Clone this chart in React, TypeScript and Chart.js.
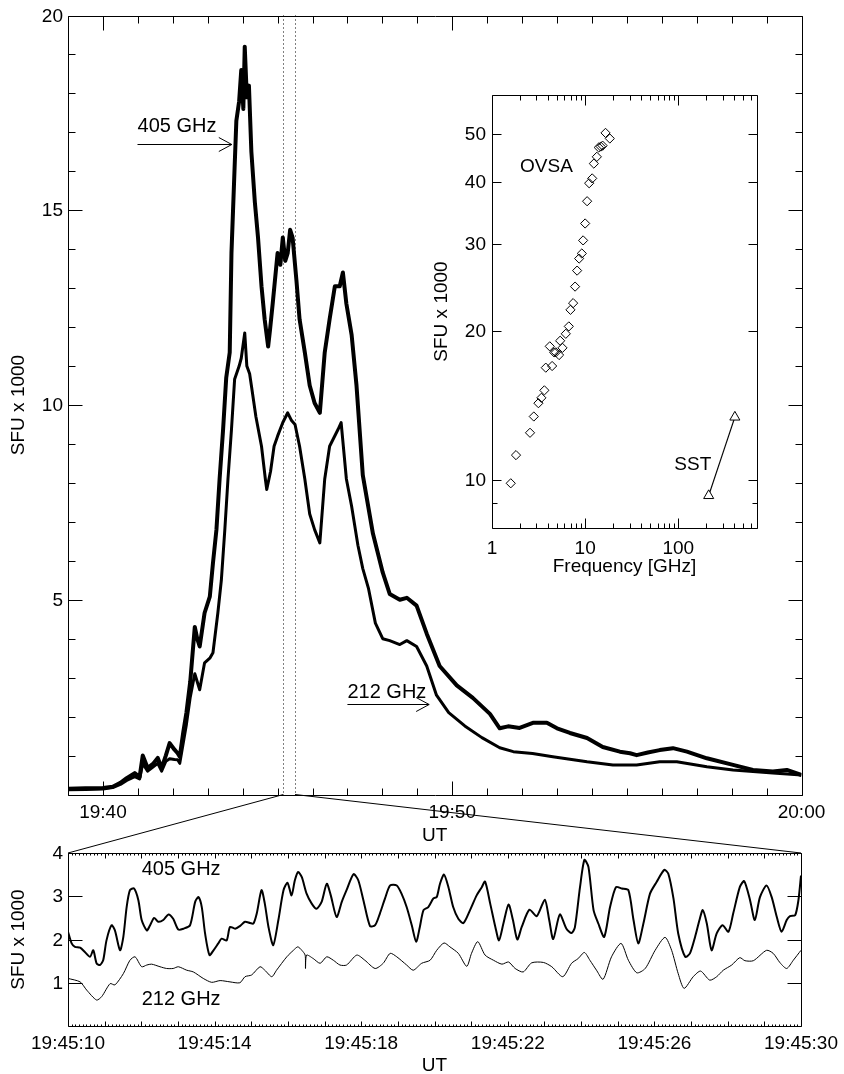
import React, { useEffect, useRef } from 'react';
import { Chart, registerables } from 'chart.js';

Chart.register(...registerables);

const FONT = '"Liberation Sans", Arial, Helvetica, sans-serif';
const FS = 19;

// ---------------- main panel (time = minutes after 19:00, flux in SFU x 1000) ----------------
const mainTime405 = [39.0, 39.5, 40.0, 40.28, 40.5, 40.68, 40.91, 41.05, 41.14, 41.28, 41.45, 41.57, 41.68, 41.8, 41.91, 42.05, 42.14, 42.2, 42.3, 42.39, 42.5, 42.63, 42.7, 42.77, 42.91, 43.06, 43.15, 43.25, 43.34, 43.44, 43.53, 43.63, 43.68, 43.77, 43.82, 43.9, 43.96, 44.02, 44.06, 44.12, 44.18, 44.25, 44.35, 44.44, 44.54, 44.63, 44.73, 44.78, 44.86, 45.0, 45.08, 45.15, 45.22, 45.29, 45.36, 45.43, 45.54, 45.63, 45.78, 45.92, 46.06, 46.21, 46.35, 46.49, 46.64, 46.78, 46.87, 46.97, 47.12, 47.26, 47.44, 47.73, 48.01, 48.21, 48.5, 48.7, 48.98, 49.27, 49.64, 50.13, 50.59, 51.08, 51.36, 51.6, 51.93, 52.31, 52.71, 53.0, 53.37, 53.86, 54.31, 54.8, 55.09, 55.28, 55.6, 55.94, 56.32, 56.72, 57.29, 58.04, 58.61, 59.18, 59.58, 60.0];
const mainFlux405 = [0.15, 0.16, 0.17, 0.2, 0.3, 0.42, 0.55, 0.45, 1.0, 0.68, 0.8, 0.94, 0.68, 1.0, 1.32, 1.15, 1.06, 0.97, 1.6, 2.1, 2.9, 4.3, 4.0, 3.8, 4.66, 5.08, 5.94, 6.8, 8.1, 9.37, 10.7, 11.35, 13.9, 16.1, 17.3, 17.8, 18.6, 17.6, 19.2, 17.9, 18.2, 16.5, 15.2, 14.3, 13.05, 12.2, 11.5, 11.9, 12.6, 13.9, 13.6, 14.3, 13.7, 13.9, 14.5, 14.3, 13.2, 12.2, 11.35, 10.5, 10.05, 9.8, 11.35, 12.2, 13.05, 13.05, 13.4, 12.6, 11.8, 10.5, 8.2, 6.7, 5.7, 5.15, 5.0, 5.05, 4.85, 4.13, 3.3, 2.8, 2.48, 2.07, 1.7, 1.75, 1.71, 1.84, 1.84, 1.7, 1.58, 1.45, 1.22, 1.1, 1.06, 1.01, 1.08, 1.14, 1.19, 1.1, 0.93, 0.76, 0.63, 0.59, 0.63, 0.5];

const mainTime212 = [39.0, 39.5, 40.0, 40.28, 40.5, 40.68, 40.91, 41.05, 41.14, 41.28, 41.45, 41.57, 41.68, 41.8, 41.91, 42.05, 42.14, 42.2, 42.39, 42.5, 42.63, 42.77, 42.91, 43.06, 43.15, 43.29, 43.39, 43.49, 43.58, 43.68, 43.77, 43.9, 43.96, 44.06, 44.12, 44.2, 44.25, 44.38, 44.54, 44.65, 44.69, 44.8, 44.9, 45.0, 45.15, 45.29, 45.4, 45.5, 45.63, 45.78, 45.92, 46.06, 46.21, 46.35, 46.49, 46.73, 46.82, 46.97, 47.12, 47.3, 47.44, 47.6, 47.8, 48.01, 48.21, 48.5, 48.7, 48.98, 49.27, 49.55, 49.9, 50.36, 50.85, 51.36, 51.75, 52.3, 52.88, 53.86, 54.6, 55.28, 55.94, 56.43, 57.29, 58.04, 58.61, 59.18, 60.0];
const mainFlux212 = [0.12, 0.13, 0.14, 0.18, 0.26, 0.36, 0.46, 0.4, 0.8, 0.6, 0.72, 0.8, 0.6, 0.85, 0.92, 0.9, 0.89, 0.8, 1.8, 2.5, 3.1, 2.69, 3.38, 3.5, 3.64, 4.66, 5.5, 6.8, 8.1, 9.37, 10.66, 11.0, 11.2, 11.85, 11.0, 10.8, 10.5, 9.7, 8.94, 8.1, 7.83, 8.3, 8.94, 9.2, 9.55, 9.8, 9.6, 9.5, 8.94, 8.1, 7.2, 6.8, 6.46, 8.1, 8.94, 9.37, 9.55, 8.1, 7.4, 6.4, 5.8, 5.3, 4.4, 4.0, 3.95, 3.85, 3.95, 3.8, 3.3, 2.55, 2.1, 1.76, 1.46, 1.2, 1.1, 1.05, 0.97, 0.84, 0.76, 0.76, 0.84, 0.84, 0.71, 0.63, 0.59, 0.55, 0.5];

const mainXTickValues = [40, 50, 60];
const mainXTickLabels = ['19:40', '19:50', '20:00'];
const mainYTickValues = [5, 10, 15, 20];
const mainYTickLabels = ['5', '10', '15', '20'];
const zoomWindow = [45 + 10 / 60, 45.5];

const mainNoteText = ['405 GHz', '212 GHz'];
const mainNoteTime = [40.99, 47.0];
const mainNoteLevel = [17.0, 2.48];
const mainArrowStart = [40.99, 47.0];
const mainArrowTip = [43.69, 49.34];
const mainArrowLevel = [16.7, 2.33];

// ---------------- inset spectrum ----------------
const ovsaFreq = [1.59, 1.81, 2.56, 2.81, 3.15, 3.39, 3.65, 3.78, 4.42, 4.17, 4.64, 4.84, 5.25, 5.39, 5.71, 6.2, 6.68, 6.96, 7.43, 7.8, 8.2, 8.62, 9.21, 9.51, 10.0, 10.5, 11.04, 11.9, 12.4, 13.35, 14.0, 14.7, 15.4, 16.55, 18.4];
const ovsaFlux = [9.85, 11.23, 12.46, 13.44, 14.3, 14.66, 15.18, 16.87, 17.0, 18.63, 18.12, 18.12, 17.89, 19.12, 18.5, 19.75, 20.44, 22.08, 22.78, 24.6, 26.5, 28.03, 28.7, 30.5, 33.0, 36.6, 39.8, 40.7, 43.6, 45.0, 47.0, 47.2, 47.4, 50.3, 49.0];
const sstFreq = [212, 405];
const sstFlux = [9.3, 13.4];
const insetXTickValues = [1, 10, 100];
const insetXTickLabels = ['1', '10', '100'];
const insetYTickValues = [10, 20, 30, 40, 50];
const insetYTickLabels = ['10', '20', '30', '40', '50'];

// ---------------- zoom panel (time = seconds after 19:45:00) ----------------
const zoomTime405 = [10.0, 10.1, 10.19, 10.33, 10.46, 10.6, 10.69, 10.78, 10.87, 10.96, 11.05, 11.19, 11.28, 11.42, 11.51, 11.6, 11.69, 11.8, 11.92, 12.01, 12.15, 12.24, 12.35, 12.46, 12.6, 12.74, 12.87, 13.01, 13.15, 13.33, 13.47, 13.56, 13.65, 13.74, 13.86, 13.97, 14.1, 14.19, 14.33, 14.42, 14.56, 14.69, 14.83, 14.97, 15.06, 15.15, 15.28, 15.37, 15.47, 15.6, 15.74, 15.88, 15.99, 16.1, 16.19, 16.28, 16.38, 16.51, 16.65, 16.78, 16.92, 17.06, 17.17, 17.33, 17.47, 17.6, 17.79, 17.92, 18.06, 18.24, 18.38, 18.51, 18.65, 18.79, 18.97, 19.1, 19.24, 19.38, 19.5, 19.6, 19.7, 19.83, 19.97, 20.06, 20.15, 20.26, 20.38, 20.51, 20.65, 20.79, 20.97, 21.15, 21.29, 21.38, 21.52, 21.66, 21.76, 21.88, 22.02, 22.14, 22.26, 22.38, 22.59, 22.79, 23.01, 23.13, 23.24, 23.42, 23.6, 23.74, 23.83, 23.97, 24.09, 24.2, 24.34, 24.47, 24.63, 24.79, 24.95, 25.11, 25.29, 25.43, 25.56, 25.7, 25.88, 26.06, 26.27, 26.38, 26.52, 26.65, 26.84, 26.97, 27.11, 27.23, 27.32, 27.43, 27.56, 27.7, 27.86, 28.02, 28.15, 28.33, 28.45, 28.61, 28.74, 28.88, 29.06, 29.2, 29.34, 29.47, 29.61, 29.7, 29.84, 29.93, 30.0];
const zoomFlux405 = [2.18, 1.91, 1.83, 1.81, 1.71, 1.6, 1.75, 1.45, 1.41, 1.52, 1.98, 2.33, 2.21, 1.75, 2.06, 2.75, 3.14, 3.18, 2.91, 2.45, 2.21, 2.33, 2.5, 2.41, 2.45, 2.58, 2.48, 2.23, 2.25, 2.33, 2.87, 2.98, 2.75, 2.14, 1.64, 1.75, 1.91, 2.02, 1.98, 2.29, 2.25, 2.31, 2.41, 2.38, 2.37, 2.6, 3.14, 2.83, 2.29, 1.87, 2.45, 3.14, 3.31, 3.02, 3.37, 3.56, 3.44, 3.06, 2.83, 2.71, 2.87, 3.29, 3.02, 2.52, 2.87, 3.14, 3.51, 3.37, 2.91, 2.31, 2.33, 2.6, 2.95, 3.25, 3.25, 3.06, 2.75, 2.33, 1.95, 2.29, 2.68, 2.75, 2.95, 2.98, 3.29, 3.5, 3.21, 2.75, 2.48, 2.38, 2.68, 3.02, 3.21, 3.34, 2.83, 2.29, 1.98, 2.37, 2.81, 2.45, 2.0, 2.29, 2.69, 2.54, 2.92, 2.45, 2.01, 2.58, 2.25, 2.15, 2.28, 3.21, 3.84, 3.68, 2.68, 2.37, 2.06, 2.75, 3.21, 3.18, 3.14, 2.45, 1.91, 2.37, 3.06, 3.33, 3.61, 3.52, 2.95, 2.14, 1.6, 1.68, 2.06, 2.45, 2.68, 2.37, 1.75, 2.14, 2.33, 2.18, 2.6, 3.21, 3.35, 2.91, 2.45, 2.98, 3.25, 2.98, 2.52, 2.18, 2.45, 2.54, 2.56, 2.91, 3.48];

const zoomTime212 = [10.0, 10.33, 10.51, 10.78, 10.92, 11.15, 11.28, 11.51, 11.69, 11.83, 12.01, 12.15, 12.28, 12.51, 12.69, 12.87, 13.01, 13.24, 13.42, 13.69, 13.92, 14.15, 14.42, 14.69, 14.83, 15.01, 15.24, 15.37, 15.56, 15.69, 15.97, 16.15, 16.27, 16.38, 16.47, 16.48, 16.51, 16.69, 16.88, 17.06, 17.24, 17.42, 17.6, 17.88, 18.1, 18.38, 18.6, 18.79, 18.97, 19.24, 19.42, 19.65, 19.88, 20.06, 20.26, 20.42, 20.65, 20.88, 21.01, 21.18, 21.38, 21.61, 21.84, 22.02, 22.2, 22.42, 22.65, 22.97, 23.2, 23.5, 23.74, 23.92, 24.09, 24.24, 24.42, 24.6, 24.83, 25.09, 25.29, 25.52, 25.75, 26.02, 26.29, 26.47, 26.65, 26.81, 27.06, 27.26, 27.51, 27.7, 27.88, 28.11, 28.33, 28.47, 28.7, 29.06, 29.24, 29.43, 29.61, 29.79, 30.0];
const zoomFlux212 = [1.1, 1.02, 0.83, 0.6, 0.68, 0.98, 0.95, 1.21, 1.52, 1.6, 1.37, 1.41, 1.43, 1.37, 1.33, 1.33, 1.37, 1.29, 1.25, 1.1, 1.01, 1.05, 1.02, 1.0, 1.14, 1.18, 1.37, 1.29, 1.14, 1.29, 1.6, 1.75, 1.83, 1.75, 1.64, 1.33, 1.64, 1.56, 1.45, 1.6, 1.52, 1.41, 1.41, 1.64, 1.52, 1.33, 1.45, 1.68, 1.6, 1.41, 1.29, 1.45, 1.52, 1.75, 1.92, 1.83, 1.68, 1.38, 1.68, 1.95, 1.64, 1.52, 1.43, 1.48, 1.33, 1.25, 1.46, 1.47, 1.37, 1.14, 1.45, 1.56, 1.7, 1.52, 1.29, 1.08, 1.6, 1.91, 1.52, 1.23, 1.33, 1.75, 2.05, 1.75, 1.21, 0.87, 1.14, 1.27, 1.06, 1.14, 1.29, 1.41, 1.58, 1.51, 1.51, 1.75, 1.68, 1.46, 1.33, 1.52, 1.75];

const zoomXTickValues = [10, 14, 18, 22, 26, 30];
const zoomXTickLabels = ['19:45:10', '19:45:14', '19:45:18', '19:45:22', '19:45:26', '19:45:30'];
const zoomYTickValues = [1, 2, 3, 4];
const zoomYTickLabels = ['1', '2', '3', '4'];
const zoomNoteText = ['405 GHz', '212 GHz'];
const zoomNoteTime = [12.01, 12.01];
const zoomNoteLevel = [3.48, 0.48];

const insetNoteText = ['OVSA', 'SST'];
const insetNoteFreq = [2.0, 90.6];
const insetNoteFlux = [42.0, 10.5];

// ---------------- helpers ----------------
type Mark = { v: number; len: number };
type FrameCfg = {
  xMarks: Mark[];
  yMarks: Mark[];
  xLabelValues: number[];
  xLabels: string[];
  yLabelValues: number[];
  yLabels: string[];
  xLabelDrop: number;
  yLabelGap: number;
  xTitle: string;
  xTitleDrop: number;
  yTitle: string;
  yTitleX: number;
};

const pts = (xs: number[], ys: number[]) => xs.map((x, i) => ({ x, y: ys[i] }));
const crisp = (v: number) => Math.round(v) + 0.5;

function framePlugin(id: string, cfg: FrameCfg) {
  return {
    id,
    afterDatasetsDraw(chart: any) {
      const { ctx, chartArea: a, scales } = chart;
      const sx = scales.x;
      const sy = scales.y;
      const L = crisp(a.left), R = crisp(a.right), T = crisp(a.top), B = crisp(a.bottom);
      ctx.save();
      ctx.strokeStyle = '#000';
      ctx.lineWidth = 1;
      ctx.setLineDash([]);
      ctx.beginPath();
      ctx.rect(L, T, R - L, B - T);
      for (const m of cfg.xMarks) {
        const px = crisp(sx.getPixelForValue(m.v));
        ctx.moveTo(px, B);
        ctx.lineTo(px, B - m.len);
        ctx.moveTo(px, T);
        ctx.lineTo(px, T + m.len);
      }
      for (const m of cfg.yMarks) {
        const py = crisp(sy.getPixelForValue(m.v));
        ctx.moveTo(L, py);
        ctx.lineTo(L + m.len, py);
        ctx.moveTo(R, py);
        ctx.lineTo(R - m.len, py);
      }
      ctx.stroke();

      ctx.fillStyle = '#000';
      ctx.font = `${FS}px ${FONT}`;
      ctx.textAlign = 'center';
      ctx.textBaseline = 'alphabetic';
      cfg.xLabelValues.forEach((v, i) => {
        ctx.fillText(cfg.xLabels[i], sx.getPixelForValue(v), a.bottom + cfg.xLabelDrop);
      });
      ctx.fillText(cfg.xTitle, (a.left + a.right) / 2, a.bottom + cfg.xTitleDrop);
      ctx.textAlign = 'right';
      ctx.textBaseline = 'middle';
      cfg.yLabelValues.forEach((v, i) => {
        ctx.fillText(cfg.yLabels[i], a.left - cfg.yLabelGap, sy.getPixelForValue(v) + 1);
      });
      ctx.save();
      ctx.translate(cfg.yTitleX, (a.top + a.bottom) / 2);
      ctx.rotate(-Math.PI / 2);
      ctx.textAlign = 'center';
      ctx.textBaseline = 'middle';
      ctx.fillText(cfg.yTitle, 0, 0);
      ctx.restore();
      ctx.restore();
    },
  };
}

function range(from: number, to: number, step: number) {
  const out: number[] = [];
  for (let i = 0; from + i * step <= to + 1e-9; i++) out.push(+(from + i * step).toFixed(4));
  return out;
}

const MAIN_H = 850;
const ZOOM_TOP = 836;
const ZOOM_H = 238;
const INSET_LEFT = 420;
const INSET_TOP = 60;
const INSET_W = 360;
const INSET_H = 530;

export default function App() {
  const mainRef = useRef<HTMLCanvasElement>(null);
  const insetRef = useRef<HTMLCanvasElement>(null);
  const zoomRef = useRef<HTMLCanvasElement>(null);
  const overRef = useRef<HTMLCanvasElement>(null);

  useEffect(() => {
    const common = {
      responsive: false,
      animation: false as const,
      devicePixelRatio: 1,
      plugins: { legend: { display: false }, tooltip: { enabled: false } },
      elements: { point: { radius: 0 }, line: { tension: 0, borderJoinStyle: 'round' as const } },
    };

    // ---------- main ----------
    const mainFrame = framePlugin('mainFrame', {
      xMarks: range(39, 60, 1).map((v) => ({ v, len: v % 10 === 0 ? 14 : 7 })),
      yMarks: range(0, 20, 1).map((v) => ({ v, len: v % 5 === 0 ? 14 : 7 })),
      xLabelValues: mainXTickValues,
      xLabels: mainXTickLabels,
      yLabelValues: mainYTickValues,
      yLabels: mainYTickLabels,
      xLabelDrop: 23,
      yLabelGap: 5,
      xTitle: 'UT',
      xTitleDrop: 46.5,
      yTitle: 'SFU x 1000',
      yTitleX: 19,
    });
    const mainNotes = {
      id: 'mainNotes',
      afterDatasetsDraw(chart: any) {
        const { ctx, chartArea: a, scales } = chart;
        const sx = scales.x;
        const sy = scales.y;
        ctx.save();
        ctx.strokeStyle = '#000';
        ctx.lineWidth = 1;
        ctx.setLineDash([1, 3]);
        for (const t of zoomWindow) {
          const px = crisp(sx.getPixelForValue(t));
          ctx.beginPath();
          ctx.moveTo(px, a.top);
          ctx.lineTo(px, a.bottom);
          ctx.stroke();
        }
        ctx.setLineDash([]);
        mainArrowStart.forEach((t0, i) => {
          const x0 = sx.getPixelForValue(t0);
          const x1 = sx.getPixelForValue(mainArrowTip[i]);
          const py = crisp(sy.getPixelForValue(mainArrowLevel[i]));
          ctx.beginPath();
          ctx.moveTo(x0, py);
          ctx.lineTo(x1, py);
          ctx.moveTo(x1 - 13, py - 7);
          ctx.lineTo(x1, py);
          ctx.lineTo(x1 - 13, py + 7);
          ctx.stroke();
        });
        ctx.fillStyle = '#000';
        ctx.font = `${FS + 1}px ${FONT}`;
        ctx.textAlign = 'left';
        ctx.textBaseline = 'alphabetic';
        mainNoteText.forEach((txt, i) => {
          ctx.fillText(txt, sx.getPixelForValue(mainNoteTime[i]), sy.getPixelForValue(mainNoteLevel[i]));
        });
        ctx.restore();
      },
    };
    const mainChart = new Chart(mainRef.current!, {
      type: 'scatter',
      data: {
        datasets: [
          { data: pts(mainTime212, mainFlux212), showLine: true, borderColor: '#000', borderWidth: 3, pointRadius: 0 },
          { data: pts(mainTime405, mainFlux405), showLine: true, borderColor: '#000', borderWidth: 4, pointRadius: 0 },
        ],
      },
      options: {
        ...common,
        layout: { padding: { left: 68, top: 15.5, right: 42.5, bottom: MAIN_H - 794.5 } },
        scales: {
          x: { type: 'linear', min: 39, max: 60, display: false },
          y: { type: 'linear', min: 0, max: 20, display: false },
        },
      } as any,
      plugins: [mainNotes, mainFrame],
    });

    // ---------- inset ----------
    const insetXMinor: number[] = [];
    [1, 10, 100].forEach((d) => {
      for (let k = 2; k <= 9; k++) if (d * k <= 700) insetXMinor.push(d * k);
    });
    const insetFrame = framePlugin('insetFrame', {
      xMarks: [
        ...insetXTickValues.map((v) => ({ v, len: 10 })),
        ...insetXMinor.map((v) => ({ v, len: 5 })),
      ],
      yMarks: [...insetYTickValues.map((v) => ({ v, len: 9 })), { v: 9, len: 5 }],
      xLabelValues: insetXTickValues,
      xLabels: insetXTickLabels,
      yLabelValues: insetYTickValues,
      yLabels: insetYTickLabels,
      xLabelDrop: 25.5,
      yLabelGap: 6,
      xTitle: 'Frequency [GHz]',
      xTitleDrop: 44,
      yTitle: 'SFU x 1000',
      yTitleX: 442 - INSET_LEFT,
    });
    const insetNotes = {
      id: 'insetNotes',
      afterDatasetsDraw(chart: any) {
        const { ctx, scales } = chart;
        ctx.save();
        ctx.fillStyle = '#000';
        ctx.font = `${FS}px ${FONT}`;
        ctx.textAlign = 'left';
        ctx.textBaseline = 'alphabetic';
        insetNoteText.forEach((txt, i) => {
          ctx.fillText(txt, scales.x.getPixelForValue(insetNoteFreq[i]), scales.y.getPixelForValue(insetNoteFlux[i]));
        });
        ctx.restore();
      },
    };
    const insetChart = new Chart(insetRef.current!, {
      type: 'scatter',
      data: {
        datasets: [
          {
            data: pts(ovsaFreq, ovsaFlux),
            pointStyle: 'rectRot',
            pointRadius: 4.6,
            borderColor: '#000',
            borderWidth: 1,
            backgroundColor: 'rgba(0,0,0,0)',
            showLine: false,
          },
          {
            data: pts(sstFreq, sstFlux),
            pointStyle: 'triangle',
            pointRadius: 5.8,
            pointBorderColor: '#000',
            pointBorderWidth: 1,
            pointBackgroundColor: '#fff',
            borderColor: '#000',
            borderWidth: 1.2,
            showLine: true,
          },
        ],
      },
      options: {
        ...common,
        layout: { padding: { left: 492 - INSET_LEFT, top: 95 - INSET_TOP, right: INSET_W - (757 - INSET_LEFT), bottom: INSET_H - (528 - INSET_TOP) } },
        scales: {
          x: { type: 'logarithmic', min: 1, max: 700, display: false },
          y: { type: 'logarithmic', min: 8, max: 60, display: false },
        },
      } as any,
      plugins: [insetFrame, insetNotes],
    });

    // ---------- zoom panel ----------
    const zoomFrame = framePlugin('zoomFrame', {
      xMarks: range(10, 30, 0.1).map((v) => ({ v, len: Math.abs(v - Math.round(v)) < 1e-6 ? 5 : 2 })),
      yMarks: zoomYTickValues.map((v) => ({ v, len: 14 })),
      xLabelValues: zoomXTickValues,
      xLabels: zoomXTickLabels,
      yLabelValues: zoomYTickValues,
      yLabels: zoomYTickLabels,
      xLabelDrop: 22.5,
      yLabelGap: 5,
      xTitle: 'UT',
      xTitleDrop: 45,
      yTitle: 'SFU x 1000',
      yTitleX: 19,
    });
    const zoomNotes = {
      id: 'zoomNotes',
      afterDatasetsDraw(chart: any) {
        const { ctx, scales } = chart;
        ctx.save();
        ctx.fillStyle = '#000';
        ctx.font = `${FS + 1}px ${FONT}`;
        ctx.textAlign = 'left';
        ctx.textBaseline = 'alphabetic';
        zoomNoteText.forEach((txt, i) => {
          ctx.fillText(txt, scales.x.getPixelForValue(zoomNoteTime[i]), scales.y.getPixelForValue(zoomNoteLevel[i]));
        });
        ctx.restore();
      },
    };
    const zoomChart = new Chart(zoomRef.current!, {
      type: 'scatter',
      data: {
        datasets: [
          { data: pts(zoomTime212, zoomFlux212), showLine: true, borderColor: '#000', borderWidth: 1, pointRadius: 0, tension: 0.25 },
          { data: pts(zoomTime405, zoomFlux405), showLine: true, borderColor: '#000', borderWidth: 2, pointRadius: 0, tension: 0.25 },
        ],
      },
      options: {
        ...common,
        layout: { padding: { left: 68, top: 853 - ZOOM_TOP, right: 844 - 801, bottom: ZOOM_H - (1026 - ZOOM_TOP) } },
        scales: {
          x: { type: 'linear', min: 10, max: 30, display: false },
          y: { type: 'linear', min: 0, max: 4, display: false },
        },
      } as any,
      plugins: [zoomFrame, zoomNotes],
    });

    // ---------- connector lines ----------
    const over = overRef.current!;
    const octx = over.getContext('2d')!;
    octx.clearRect(0, 0, over.width, over.height);
    octx.strokeStyle = '#000';
    octx.lineWidth = 1;
    const ma = mainChart.chartArea;
    const za = zoomChart.chartArea;
    const xa = mainChart.scales.x.getPixelForValue(zoomWindow[0]);
    const xb = mainChart.scales.x.getPixelForValue(zoomWindow[1]);
    octx.beginPath();
    octx.moveTo(xa, ma.bottom);
    octx.lineTo(za.left, za.top + ZOOM_TOP);
    octx.moveTo(xb, ma.bottom);
    octx.lineTo(za.right, za.top + ZOOM_TOP);
    octx.stroke();

    return () => {
      mainChart.destroy();
      insetChart.destroy();
      zoomChart.destroy();
    };
  }, []);

  const abs = (left: number, top: number, w: number, h: number): React.CSSProperties => ({
    position: 'absolute',
    left,
    top,
    width: w,
    height: h,
  });

  return (
    <div style={{ position: 'absolute', left: 0, top: 0, width: 844, height: 1074, background: '#fff', overflow: 'hidden' }}>
      <canvas ref={mainRef} width={844} height={MAIN_H} style={abs(0, 0, 844, MAIN_H)} />
      <canvas ref={zoomRef} width={844} height={ZOOM_H} style={abs(0, ZOOM_TOP, 844, ZOOM_H)} />
      <canvas ref={insetRef} width={INSET_W} height={INSET_H} style={abs(INSET_LEFT, INSET_TOP, INSET_W, INSET_H)} />
      <canvas ref={overRef} width={844} height={1074} style={{ ...abs(0, 0, 844, 1074), pointerEvents: 'none' }} />
    </div>
  );
}
